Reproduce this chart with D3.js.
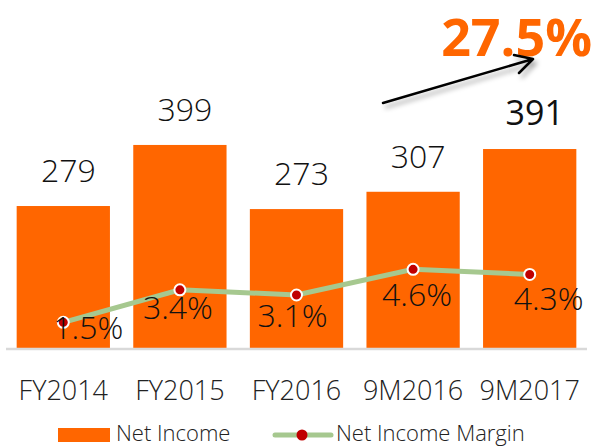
<!doctype html>
<html>
  <head>
    <meta charset="utf-8">
    <title>Net Income and Net Income Margin</title>
    <script src="https://cdnjs.cloudflare.com/ajax/libs/d3/7.8.5/d3.min.js"></script>
    <style>
      html, body { margin: 0; padding: 0; background: #fff; }
      text { font-family: "Open Sans", "Noto Sans", sans-serif; }
    </style>
  </head>
  <body>
    <div id="chart"></div>

    <script>
      // data
      const categories = ['FY2014', 'FY2015', 'FY2016', '9M2016', '9M2017'],
            netIncome = [279, 399, 273, 307, 391],
            netMargin = [1.5, 3.4, 3.1, 4.6, 4.3]

      const growthLabel = '27.5%'

      // label nudges for the margin labels (dx, dy from the point)
      const marginNudge = [[25, 17], [-2, 29], [-4, 32], [4, 37], [19, 36]]

      const orange = '#ff6600',
            green = '#a6c88f',
            red = '#c00000'

      const width = 597, height = 448, baseY = 348

      const svg = d3.select('#chart')
        .append('svg')
        .attr('width', width)
        .attr('height', height)

      // shadow for the arrow
      const defs = svg.append('defs')
      defs.append('filter')
        .attr('id', 'shadow')
        .attr('x', '-20%').attr('y', '-50%')
        .attr('width', '140%').attr('height', '200%')
        .append('feDropShadow')
        .attr('dx', 3).attr('dy', 4)
        .attr('stdDeviation', 2.5)
        .attr('flood-color', '#000')
        .attr('flood-opacity', 0.35)

      // scales
      const x = d3.scaleBand()
        .domain(categories)
        .range([5, 588])
        .paddingInner(0.2)
        .paddingOuter(0.1)

      const y = d3.scaleLinear().domain([0, 450]).range([baseY, baseY - 229])
      const y2 = d3.scaleLinear().domain([0, 10]).range([baseY, baseY - 171])

      // bars
      svg.selectAll('rect.bar')
        .data(netIncome)
        .join('rect')
        .attr('class', 'bar')
        .attr('x', (d, i) => x(categories[i]))
        .attr('y', d => y(d))
        .attr('width', x.bandwidth())
        .attr('height', d => baseY - y(d))
        .attr('fill', orange)

      // baseline
      svg.append('line')
        .attr('x1', x.range()[0] + 1).attr('x2', x.range()[1] - 1)
        .attr('y1', baseY + 1).attr('y2', baseY + 1)
        .attr('stroke', '#d9d9d9')
        .attr('stroke-width', 2.5)

      // bar value labels
      svg.selectAll('text.val')
        .data(netIncome)
        .join('text')
        .attr('class', 'val')
        .attr('x', (d, i) => x(categories[i]) + x.bandwidth() / 2 + 5)
        .attr('y', d => y(d) - 24)
        .attr('text-anchor', 'middle')
        .attr('font-size', (d, i) => i === 4 ? 34 : 32)
        .attr('font-weight', (d, i) => i === 4 ? 400 : 300)
        .attr('fill', '#111')
        .text(d => d)

      // margin line
      const line = d3.line()
        .x((d, i) => x(categories[i]) + x.bandwidth() / 2)
        .y(d => y2(d))

      svg.append('path')
        .datum(netMargin)
        .attr('d', line)
        .attr('fill', 'none')
        .attr('stroke', green)
        .attr('stroke-width', 5)

      svg.selectAll('circle.pt')
        .data(netMargin)
        .join('circle')
        .attr('class', 'pt')
        .attr('cx', (d, i) => x(categories[i]) + x.bandwidth() / 2)
        .attr('cy', d => y2(d))
        .attr('r', 5.5)
        .attr('fill', red)
        .attr('stroke', '#fff')
        .attr('stroke-width', 2)

      // margin labels
      svg.selectAll('text.pct')
        .data(netMargin)
        .join('text')
        .attr('class', 'pct')
        .attr('x', (d, i) => x(categories[i]) + x.bandwidth() / 2 + marginNudge[i][0])
        .attr('y', (d, i) => y2(d) + marginNudge[i][1])
        .attr('text-anchor', 'middle')
        .attr('font-size', 32)
        .attr('font-weight', 300)
        .attr('fill', '#111')
        .text(d => d.toFixed(1) + '%')

      // category axis
      const xAxis = svg.append('g')
        .attr('transform', `translate(0,${baseY})`)
        .call(d3.axisBottom(x).tickSize(0).tickPadding(0))
      xAxis.select('.domain').remove()
      xAxis.selectAll('text')
        .attr('y', 52)
        .attr('dy', 0)
        .attr('font-size', 27)
        .attr('font-weight', 300)
        .attr('font-family', '"Open Sans", sans-serif')
        .attr('fill', '#222')

      // growth annotation
      svg.append('text')
        .attr('x', 592)
        .attr('y', 56)
        .attr('text-anchor', 'end')
        .attr('font-size', 52)
        .attr('font-weight', 'bold')
        .attr('fill', orange)
        .text(growthLabel)

      const arrow = svg.append('g').attr('filter', 'url(#shadow)')
      arrow.append('path')
        .attr('d', 'M383,103 L533,59 M514,55 L533,59 L519,73')
        .attr('fill', 'none')
        .attr('stroke', '#000')
        .attr('stroke-width', 2.5)
        .attr('stroke-linecap', 'round')
        .attr('stroke-linejoin', 'round')

      // legend
      const legend = svg.append('g')
      legend.append('rect')
        .attr('x', 58).attr('y', 428)
        .attr('width', 52).attr('height', 14)
        .attr('fill', orange)
      legend.append('text')
        .attr('x', 116).attr('y', 441)
        .attr('font-size', 22)
        .attr('font-weight', 300)
        .attr('fill', '#222')
        .text('Net Income')

      legend.append('line')
        .attr('x1', 275).attr('x2', 331)
        .attr('y1', 435).attr('y2', 435)
        .attr('stroke', green)
        .attr('stroke-width', 5)
        .attr('stroke-linecap', 'round')
      legend.append('circle')
        .attr('cx', 302).attr('cy', 435)
        .attr('r', 5.5)
        .attr('fill', red)
      legend.append('text')
        .attr('x', 336).attr('y', 441)
        .attr('font-size', 22)
        .attr('font-weight', 300)
        .attr('fill', '#222')
        .text('Net Income Margin')
    </script>
  </body>
</html>
